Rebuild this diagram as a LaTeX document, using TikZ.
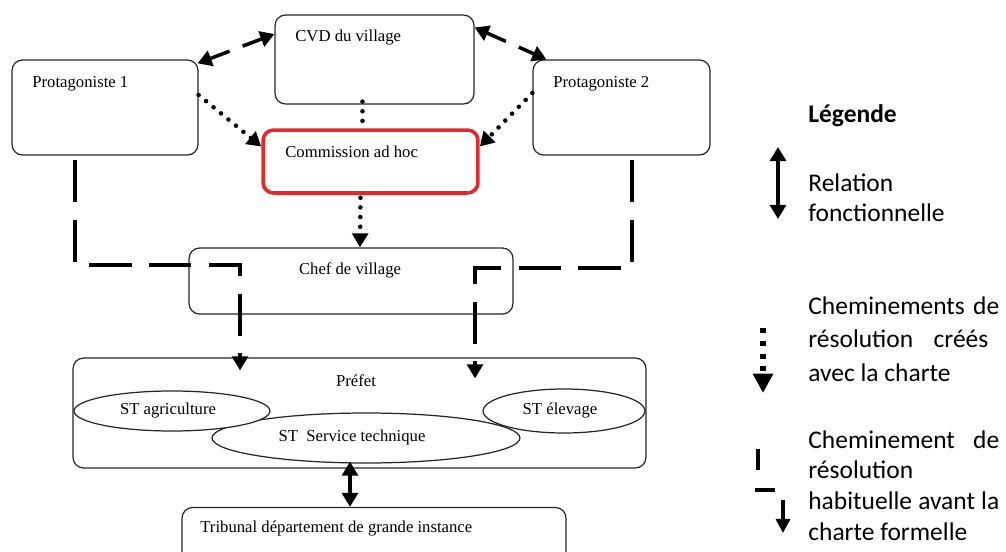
\documentclass[tikz,border=0pt]{standalone}
\usepackage{fontspec}
\setmainfont{Liberation Serif}
\newfontfamily\legfont{Carlito}
\usetikzlibrary{arrows.meta,shapes.geometric,calc}
\definecolor{cred}{RGB}{232,40,40}
\begin{document}
\begin{tikzpicture}[x=0.02cm,y=-0.02cm,
  box/.style={draw=black!85,line width=0.7pt,rounded corners=6pt,inner sep=0pt},
  redbox/.style={draw=cred,line width=2pt,rounded corners=6pt,inner sep=0pt},
  ell/.style={ellipse,draw=black!85,line width=0.7pt,fill=white,inner sep=0pt},
  txt/.style={font=\fontsize{9.5}{11}\selectfont,inner sep=0pt},
  leg/.style={font=\legfont\fontsize{14.5}{17}\selectfont,inner sep=0pt,anchor=west},
  tip/.tip={Triangle[width=9pt,length=8pt]},
  smalltip/.tip={Triangle[width=8pt,length=8pt]},
  bigtip/.tip={Triangle[width=11pt,length=11pt]},
  link/.style={line width=2pt,dash pattern=on 12pt off 8pt},
  dots/.style={line width=2.6pt,line cap=round,dash pattern=on 0pt off 5.5pt},
  habit/.style={line width=2.2pt,dash pattern=on 24pt off 10pt},
  rel/.style={line width=2.2pt}
]
\useasboundingbox (0,0) rectangle (1006,551);

% boxes
\node[box,minimum width=3.72cm,minimum height=1.9cm] (p1) at (105,107.5) {};
\node[txt,anchor=west] (p1t) at (32,84) {Protagoniste 1};
\node[box,minimum width=3.98cm,minimum height=1.78cm] (cvd) at (374.5,59.5) {};
\node[txt,anchor=west] (cvdt) at (295,38) {CVD du village};
\node[box,minimum width=3.54cm,minimum height=1.9cm] (p2) at (621.5,107.5) {};
\node[txt,anchor=west] (p2t) at (553,84) {Protagoniste 2};
\node[redbox,minimum width=4.3cm,minimum height=1.26cm] (comm) at (370.5,161.5) {};
\node[txt,anchor=west] (commt) at (285,152) {Commission ad hoc};
\node[box,minimum width=6.48cm,minimum height=1.32cm] (chef) at (351,281) {};
\node[txt] (cheft) at (350,270) {Chef de village};
\node[box,minimum width=11.46cm,minimum height=2.2cm] (prefet) at (359.5,413) {};
\node[txt] (prefett) at (356,381) {Préfet};
\node[ell,minimum width=6.16cm,minimum height=1cm] (st) at (366,438) {};
\node[txt] (stt) at (352,437) {ST\ \ Service technique};
\node[ell,minimum width=3.92cm,minimum height=0.8cm] (agri) at (172,411) {};
\node[txt] (agrit) at (168,411) {ST agriculture};
\node[ell,minimum width=3.24cm,minimum height=0.88cm] (elev) at (564,411) {};
\node[txt] (elevt) at (560,410) {ST élevage};
\node[box,minimum width=7.68cm,minimum height=1.3cm] (trib) at (374,540) {};
\node[txt,anchor=west] (tribt) at (200,528) {Tribunal département de grande instance};

% links
\draw[link,{tip}-{tip}] ([xshift=-0.02cm,yshift=-0.08cm]p1.north east) -- ([yshift=0.51cm]cvd.west);
\draw[link,{tip}-{tip}] ([yshift=0.64cm]cvd.east) -- ([xshift=0.28cm]p2.north west);
\draw[dots,-{tip}] ([yshift=0.25cm]p1.east) -- ([yshift=0.3cm]comm.west);
\draw[dots,-{tip}] ([yshift=0.29cm]p2.west) -- ([yshift=0.3cm]comm.east);
\draw[dots] ($(cvd.south)+(-12,-3)$) -- ($(comm.north)+(-8,2)$);
\draw[dots,-{tip}] ($(comm.south)+(-10,3)$) -- ($(chef.north)+(9,0)$);
\draw[rel,{tip}-{tip}] ($(st.south)+(-16,-2)$) -- ($(trib.north)+(-24,0)$);

% usual paths
\coordinate (h1) at (75,160);
\coordinate (c1) at (240,265);
\draw[habit,-{tip}] (h1) |- (c1) -- ($(c1 |- prefet.north)+(0,13)$);
\coordinate (h2) at (632,160);
\coordinate (c2) at (475,268);
\draw[habit,-{tip}] (h2) |- (c2) -- ($(c2 |- prefet.north)+(0,21)$);

% legend
\node[leg,font=\legfont\bfseries\fontsize{14.5}{17}\selectfont] (lg) at (808,116) {Légende};
\coordinate (r1) at (778,147);
\coordinate (r2) at (778,219);
\draw[rel,{tip}-{tip}] (r1) -- (r2);
\node[leg] (l1a) at (808,183) {Relation};
\node[leg] (l1b) at (808,213) {fonctionnelle};

\coordinate (d1) at (763,328);
\coordinate (d2) at (763,393);
\draw[line width=3.6pt,dash pattern=on 2.8pt off 4.5pt,-{bigtip}] (d1) -- (d2);
\node[leg] (l2a) at (808,306) {\makebox[3.82cm][s]{Cheminements de}};
\node[leg] (l2b) at (808,339) {\makebox[3.6cm][s]{résolution créés}};
\node[leg] (l2c) at (808,373) {avec la charte};

\coordinate (u1) at (758,449);
\coordinate (u2) at (758,470);
\coordinate (u3) at (755,490);
\coordinate (u4) at (775,490);
\coordinate (u5) at (783,500);
\coordinate (u6) at (783,533);
\draw[line width=2.6pt] (u1) -- (u2);
\draw[line width=2.6pt] (u3) -- (u4);
\draw[line width=1.8pt,-{smalltip}] (u5) -- (u6);
\node[leg] (l3a) at (808,440) {\makebox[3.82cm][s]{Cheminement de}};
\node[leg] (l3b) at (808,470) {résolution};
\node[leg] (l3c) at (808,501) {\makebox[3.82cm][s]{habituelle avant la}};
\node[leg] (l3d) at (808,532) {charte formelle};
\end{tikzpicture}
\end{document}
